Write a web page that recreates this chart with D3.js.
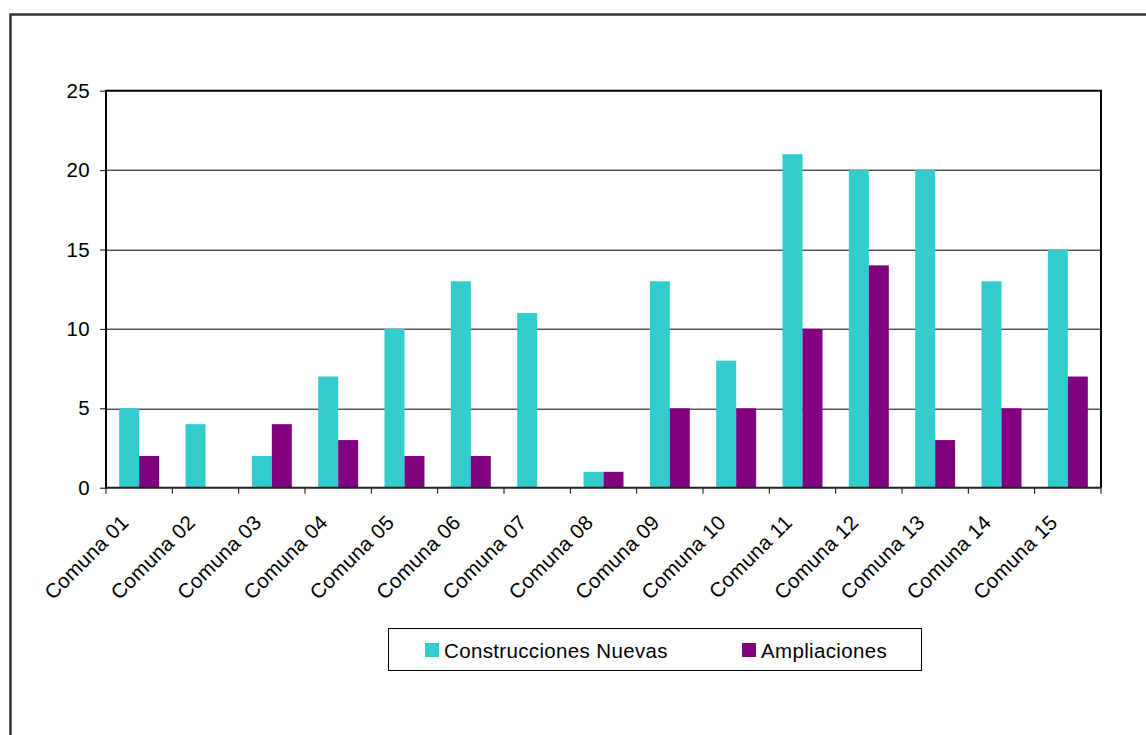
<!DOCTYPE html>
<html>
<head>
<meta charset="utf-8">
<script src="https://cdn.jsdelivr.net/npm/d3@7"></script>
<style>
    body { margin: 0; background: #fff; }
    svg { display: block; font-family: "Liberation Sans", Arial, sans-serif; }
</style>
</head>
<body>
<div id="chart"></div>
<script>
// Chart data
const comunas = ["Comuna 01", "Comuna 02", "Comuna 03", "Comuna 04", "Comuna 05",
    "Comuna 06", "Comuna 07", "Comuna 08", "Comuna 09", "Comuna 10",
    "Comuna 11", "Comuna 12", "Comuna 13", "Comuna 14", "Comuna 15"];
const seriesNames = ["Construcciones Nuevas", "Ampliaciones"];
const construccionesNuevas = [5, 4, 2, 7, 10, 13, 11, 1, 13, 8, 21, 20, 20, 13, 15];
const ampliaciones = [2, 0, 4, 3, 2, 2, 0, 1, 5, 5, 10, 14, 3, 5, 7];
const yTicks = [0, 5, 10, 15, 20, 25];
const colors = ["#33CCCC", "#800080"];

const W = 1146, H = 735;
const margin = {top: 90.7, right: 45, bottom: 247.3, left: 106};
const width = W - margin.left - margin.right;
const height = H - margin.top - margin.bottom;
const fontSize = 20.5;
const letterSpacing = 0.35;

const svg = d3.select("#chart").append("svg")
    .attr("width", W)
    .attr("height", H);

// Outer chart frame (runs off the window on right and bottom)
svg.append("rect")
    .attr("x", 10.5).attr("y", 14.5)
    .attr("width", W + 20).attr("height", H + 20)
    .attr("fill", "none")
    .attr("stroke", "#333")
    .attr("stroke-width", 2.5);

const g = svg.append("g")
    .attr("transform", `translate(${margin.left},${margin.top})`);

const x0 = d3.scaleBand()
    .domain(comunas)
    .range([0, width])
    .paddingInner(0)
    .paddingOuter(0);

const x1 = d3.scaleBand()
    .domain(seriesNames)
    .range([0, x0.bandwidth()])
    .paddingInner(0)
    .paddingOuter(0.66);

const y = d3.scaleLinear()
    .domain([0, 25])
    .range([height, 0]);

// Gridlines
g.append("g")
    .selectAll("line")
    .data(yTicks.filter(d => d > 0 && d < 25))
    .join("line")
    .attr("x1", 0).attr("x2", width)
    .attr("y1", d => Math.round(y(d)) + 0.5)
    .attr("y2", d => Math.round(y(d)) + 0.5)
    .attr("stroke", "#000")
    .attr("stroke-width", 1);

// Bars
const rows = comunas.map((c, i) => ({
    comuna: c,
    values: [
        {series: seriesNames[0], value: construccionesNuevas[i]},
        {series: seriesNames[1], value: ampliaciones[i]}
    ]
}));

g.append("g")
    .selectAll("g")
    .data(rows)
    .join("g")
    .attr("transform", d => `translate(${x0(d.comuna)},0)`)
    .selectAll("rect")
    .data(d => d.values.filter(v => v.value > 0))
    .join("rect")
    .attr("x", d => x1(d.series))
    .attr("y", d => y(d.value))
    .attr("width", x1.bandwidth())
    .attr("height", d => y(0) - y(d.value))
    .attr("fill", d => colors[seriesNames.indexOf(d.series)]);

// Plot frame: left, top, right
g.append("path")
    .attr("d", `M0,${height}V0H${width}V${height}`)
    .attr("fill", "none")
    .attr("stroke", "#000")
    .attr("stroke-width", 2);

// Y axis
const yAxis = g.append("g")
    .call(d3.axisLeft(y).tickValues(yTicks).tickSize(6).tickPadding(10))
    .call(s => s.select(".domain").remove());
yAxis.selectAll("line").attr("stroke", "#000");
yAxis.selectAll("text")
    .attr("font-size", fontSize)
    .attr("letter-spacing", letterSpacing)
    .attr("font-family", "Liberation Sans, Arial, sans-serif")
    .attr("fill", "#000");

// X axis line and ticks at band boundaries
const boundaries = comunas.map(c => x0(c)).concat([width]);
g.append("g")
    .selectAll("line")
    .data(boundaries)
    .join("line")
    .attr("x1", d => d).attr("x2", d => d)
    .attr("y1", height).attr("y2", height + 6)
    .attr("stroke", "#000")
    .attr("stroke-width", 1);

g.append("line")
    .attr("x1", 0).attr("x2", width)
    .attr("y1", height).attr("y2", height)
    .attr("stroke", "#222")
    .attr("stroke-width", 2);

// X labels, rotated
g.append("g")
    .selectAll("text")
    .data(comunas)
    .join("text")
    .attr("transform", d => `translate(${x0(d) + x0.bandwidth() / 2 - 9},${height + 36}) rotate(-45)`)
    .attr("text-anchor", "end")
    .attr("font-size", fontSize)
    .attr("letter-spacing", letterSpacing)
    .attr("fill", "#000")
    .text(d => d);

// Legend
const legend = svg.append("g");
legend.append("rect")
    .attr("x", 388.5).attr("y", 628.5)
    .attr("width", 533).attr("height", 42)
    .attr("fill", "#fff")
    .attr("stroke", "#000")
    .attr("stroke-width", 1);

const legendX = [425, 742];
const items = legend.selectAll("g.item")
    .data(seriesNames)
    .join("g")
    .attr("class", "item")
    .attr("transform", (d, i) => `translate(${legendX[i]},643)`);

items.append("rect")
    .attr("width", 14).attr("height", 14)
    .attr("fill", (d, i) => colors[i]);

items.append("text")
    .attr("x", 19)
    .attr("y", 15)
    .attr("font-size", fontSize)
    .attr("letter-spacing", letterSpacing)
    .attr("fill", "#000")
    .text(d => d);
</script>
</body>
</html>
